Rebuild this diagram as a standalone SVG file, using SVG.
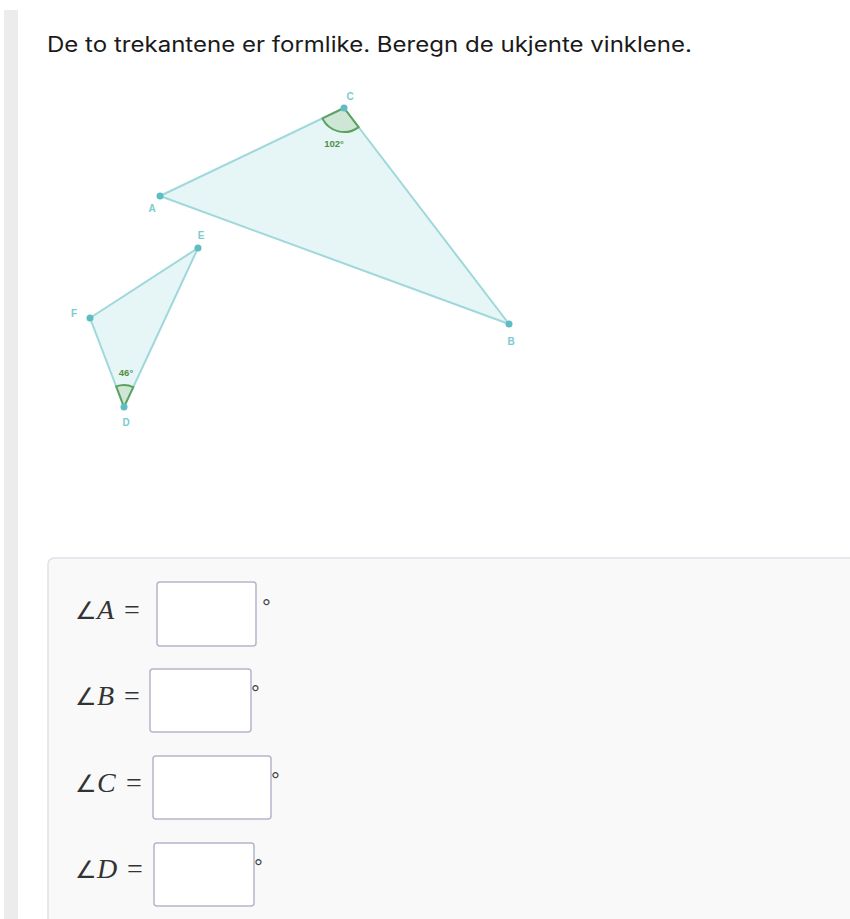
<svg xmlns="http://www.w3.org/2000/svg" width="850" height="919" viewBox="0 0 850 919">
<style>
.tri{fill:#e6f5f6;stroke:#9fd8db;stroke-width:2;stroke-linejoin:round}
.pt{fill:#5cbdc4}
.lbl{font-family:"Liberation Sans",Arial,sans-serif;font-size:10px;font-weight:bold;fill:#7ccbd0}
.arc{fill:#cfe6d6;stroke:#5aa25e;stroke-width:2}
.ang{font-family:"Liberation Sans",Arial,sans-serif;font-size:9.5px;font-weight:bold;fill:#4e8f46}
.box{fill:#ffffff;stroke:#b4b6cc;stroke-width:1.5}
.math{font-family:"Liberation Serif","Times New Roman",serif;font-size:28px;fill:#333}
.deg{font-family:"Liberation Sans",Arial,sans-serif;font-size:22px;fill:#444}
</style>
<rect x="0" y="0" width="850" height="919" fill="#ffffff"/>
<rect x="4" y="10" width="14" height="909" fill="#ececec"/>
<text x="47" y="52" font-family="Inter,'Liberation Sans',Arial,sans-serif" font-size="21" fill="#1a1a1a" textLength="645" lengthAdjust="spacingAndGlyphs">De to trekantene er formlike. Beregn de ukjente vinklene.</text>

<g id="triangle-abc">
<polygon class="tri" points="160,196 344,108 509,324"/>
<path class="arc" d="M344,108 L322.4,118.4 A24,24 0 0 0 358.6,127.1 Z"/>
<text class="ang" x="334" y="147" text-anchor="middle">102°</text>
</g>
<g id="triangle-def">
<polygon class="tri" points="198,248 90,318 124,407"/>
<path class="arc" d="M124,407 L116.2,386.4 A22,22 0 0 1 133.3,387.1 Z"/>
<text class="ang" x="126" y="376" text-anchor="middle">46°</text>
</g>
<g id="node-A"><circle class="pt" cx="160" cy="196" r="3.5"/><text class="lbl" x="152" y="212" text-anchor="middle">A</text></g>
<g id="node-B"><circle class="pt" cx="509" cy="324" r="3.5"/><text class="lbl" x="511" y="345" text-anchor="middle">B</text></g>
<g id="node-C"><circle class="pt" cx="344" cy="108" r="3.5"/><text class="lbl" x="350" y="100" text-anchor="middle">C</text></g>
<g id="node-D"><circle class="pt" cx="124" cy="407" r="3.5"/><text class="lbl" x="126" y="426" text-anchor="middle">D</text></g>
<g id="node-E"><circle class="pt" cx="198" cy="248" r="3.5"/><text class="lbl" x="201" y="239" text-anchor="middle">E</text></g>
<g id="node-F"><circle class="pt" cx="90" cy="318" r="3.5"/><text class="lbl" x="74" y="317" text-anchor="middle">F</text></g>

<g id="answer-panel">
<rect x="48" y="558" width="820" height="380" rx="6" fill="#f9f9f9" stroke="#e0e0e8" stroke-width="1.5"/>
<g id="row-A">
<text class="math" x="75" y="619"><tspan font-size="24">∠</tspan><tspan font-style="italic">A</tspan></text>
<text class="math" x="124" y="619">=</text>
<rect class="box" x="157" y="582" width="99" height="64" rx="3"/>
<text class="deg" x="262" y="615">°</text>
</g>
<g id="row-B">
<text class="math" x="75" y="705"><tspan font-size="24">∠</tspan><tspan font-style="italic">B</tspan></text>
<text class="math" x="124" y="705">=</text>
<rect class="box" x="150" y="669" width="101" height="63" rx="3"/>
<text class="deg" x="251" y="701">°</text>
</g>
<g id="row-C">
<text class="math" x="75" y="792"><tspan font-size="24">∠</tspan><tspan font-style="italic">C</tspan></text>
<text class="math" x="126" y="792">=</text>
<rect class="box" x="153" y="756" width="118" height="63" rx="3"/>
<text class="deg" x="271" y="788">°</text>
</g>
<g id="row-D">
<text class="math" x="75" y="878"><tspan font-size="24">∠</tspan><tspan font-style="italic">D</tspan></text>
<text class="math" x="127" y="878">=</text>
<rect class="box" x="154" y="843" width="100" height="63" rx="3"/>
<text class="deg" x="254" y="875">°</text>
</g>
</g>
</svg>
